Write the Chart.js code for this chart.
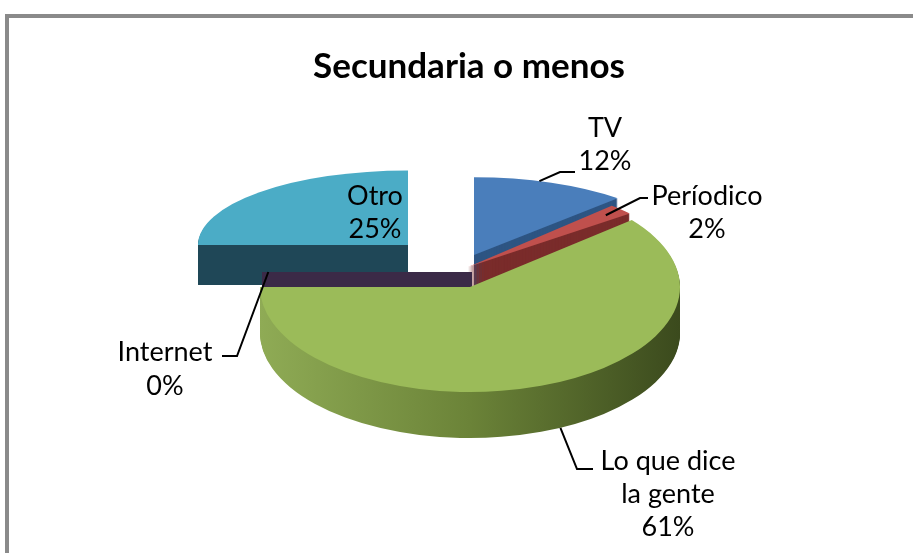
<!DOCTYPE html>
<html>
<head>
<meta charset="utf-8">
<script src="https://cdn.jsdelivr.net/npm/chart.js@4.4.1/dist/chart.umd.min.js"></script>
<style>
html, body { margin: 0; padding: 0; background: #fff; overflow: hidden; }
#wrap { position: relative; width: 913px; height: 553px; overflow: hidden; }
#frame { position: absolute; left: 5px; top: 14px; width: 1000px; height: 1000px; border: 4px solid #8a8a8a; }
canvas { position: absolute; left: 0; top: 0; }
</style>
</head>
<body>
<div id="wrap">
  <div id="frame"></div>
  <canvas id="pie" width="913" height="553"></canvas>
</div>
<script>
// data
const chartTitle = "Secundaria o menos";
const categories = ["TV", "Períodico", "Lo que dice la gente", "Internet", "Otro"];
const values = [12, 2, 61, 0, 25];
const labelLines = [["TV"], ["Períodico"], ["Lo que dice", "la gente"], ["Internet"], ["Otro"]];

// style
const topColors = ["#4a7ebb", "#c0504d", "#9bbb59", "#8064a2", "#4bacc6"];
const sideColors = ["#2e5583", "#7a2c2b", null, "#3b2a47", "#1f4757"];
// exploded slice shift in screen px, vertical squash and wall depth per slice (fakes the perspective)
const shifts = [[23, -15], [17, -3], [19, 17], [21, 2], [-43, -25]];
const tilts = [0.37, 0.40, 0.50, 0.44, 0.355];
const depths = [42, 44, 46, 44, 40];

// label placement: text centre, line height, anchor [fraction of slice, fraction of radius, on bottom rim], elbow points
const labelStyle = [
    { x: 605, y: 128, lh: 33, anchor: [0.42, 1, 0], elbow: [[560, 172], [575, 172]] },
    { x: 707, y: 196, lh: 33, anchor: [0.5, 0.9, 0], elbow: [[640, 198], [648, 198]] },
    { x: 668, y: 461, lh: 33, anchor: [0.474, 1, 1], elbow: [[577, 469], [593, 469]] },
    { x: 165, y: 352, lh: 34, anchor: [0, 0.97, 0], elbow: [[237, 356], [222, 356]] },
    { x: 375, y: 196, lh: 33, anchor: null, elbow: null }
];

function drawArc(ctx, el, color) {
    const copy = Object.create(el);
    copy.options = Object.assign({}, el.options, { backgroundColor: color, borderWidth: 0, offset: 0, spacing: 0 });
    Chart.ArcElement.prototype.draw.call(copy, ctx);
}

const pie3d = {
    id: "pie3d",
    beforeDatasetsDraw(chart) {
        const ctx = chart.ctx;
        const arcs = chart.getDatasetMeta(0).data;
        const cx = arcs[0].x, cy = arcs[0].y, R = arcs[0].outerRadius;

        // back slices first
        const order = arcs.map((a, i) => i).sort((a, b) => {
            const ma = (arcs[a].startAngle + arcs[a].endAngle) / 2;
            const mb = (arcs[b].startAngle + arcs[b].endAngle) / 2;
            return Math.sin(ma) - Math.sin(mb);
        });

        order.forEach(i => {
            const el = arcs[i];
            const k = tilts[i], depth = depths[i];
            ctx.save();
            ctx.translate(cx + shifts[i][0], cy + shifts[i][1]);
            ctx.scale(1, k);
            ctx.translate(-cx, -cy);

            let side = sideColors[i];
            if (!side) {
                side = ctx.createLinearGradient(cx - R, 0, cx + R, 0);
                side.addColorStop(0, "#8fab55");
                side.addColorStop(0.5, "#6b8338");
                side.addColorStop(1, "#3b4a1d");
            }
            if (el.circumference === 0) {
                // zero slice still shows its flat wall
                const x1 = cx + Math.cos(el.startAngle) * R, y1 = cy + Math.sin(el.startAngle) * R;
                const h = depth / k;
                ctx.fillStyle = side;
                ctx.beginPath();
                ctx.moveTo(cx, cy);
                ctx.lineTo(x1, y1);
                ctx.lineTo(x1, y1 + h);
                ctx.lineTo(cx, cy + h);
                ctx.closePath();
                ctx.fill();
            } else {
                for (let s = depth; s > 0; s--) {
                    ctx.save();
                    ctx.translate(0, s / k);
                    drawArc(ctx, el, side);
                    ctx.restore();
                }
                drawArc(ctx, el, topColors[i]);
            }
            ctx.restore();
        });
        return false;
    },
    afterDraw(chart) {
        const ctx = chart.ctx;
        const arcs = chart.getDatasetMeta(0).data;
        const cx = arcs[0].x, cy = arcs[0].y, R = arcs[0].outerRadius;
        const total = values.reduce((a, b) => a + b, 0);

        ctx.save();
        ctx.fillStyle = "#000";
        ctx.textAlign = "center";
        ctx.textBaseline = "middle";
        ctx.font = "bold 35px Lato";
        ctx.fillText(chartTitle, 469, 67);

        ctx.strokeStyle = "#000";
        ctx.lineWidth = 2;
        ctx.font = "27px Lato";
        arcs.forEach((el, i) => {
            const L = labelStyle[i];
            if (L.anchor) {
                const a = el.startAngle + L.anchor[0] * el.circumference;
                const px = cx + shifts[i][0] + Math.cos(a) * R * L.anchor[1];
                const py = cy + shifts[i][1] + Math.sin(a) * R * L.anchor[1] * tilts[i] + L.anchor[2] * depths[i];
                ctx.beginPath();
                ctx.moveTo(px, py);
                L.elbow.forEach(p => ctx.lineTo(p[0], p[1]));
                ctx.stroke();
            }
            const lines = labelLines[i].concat([Math.round(values[i] / total * 100) + "%"]);
            lines.forEach((t, j) => ctx.fillText(t, L.x, L.y + j * L.lh));
        });
        ctx.restore();
    }
};

new Chart(document.getElementById("pie"), {
    type: "pie",
    data: {
        labels: categories,
        datasets: [{
            data: values,
            backgroundColor: topColors,
            borderWidth: 0
        }]
    },
    options: {
        responsive: false,
        animation: false,
        radius: 210,
        layout: { padding: { left: 0, right: 11, top: 0, bottom: 13 } },
        plugins: {
            legend: { display: false },
            tooltip: { enabled: false },
            title: { display: false }
        }
    },
    plugins: [pie3d]
});
</script>
</body>
</html>
